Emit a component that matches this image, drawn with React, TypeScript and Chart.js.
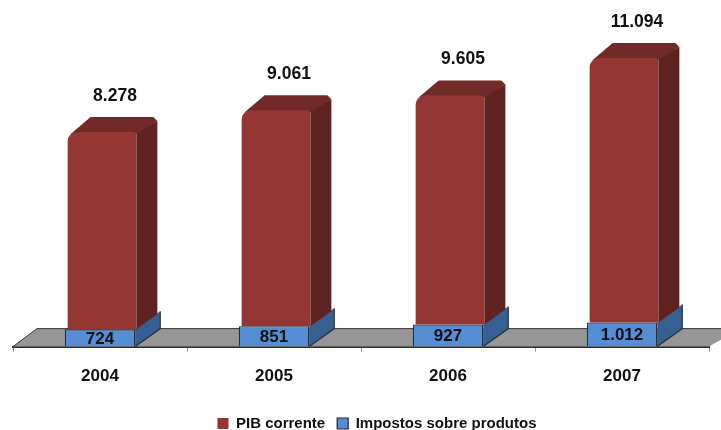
import React, { useEffect, useRef } from "react";
import { Chart, registerables } from "chart.js";

Chart.register(...registerables);

const years = ["2004", "2005", "2006", "2007"];
const pibCorrente = [8278, 9061, 9605, 11094];
const impostos = [724, 851, 927, 1012];
const pibLabels = ["8.278", "9.061", "9.605", "11.094"];
const impostosLabels = ["724", "851", "927", "1.012"];

const FONT = '"Liberation Sans", Arial, sans-serif';
const FLOOR_DEPTH = { x: 24, y: 18 };
const TAX_DEPTH = { x: 25, y: 18 };
const PIB_DEPTH = { x: 21, y: 15 };
const PIB_SHIFT = 2;
const LEGEND_SHIFT = 16;

function polygon(ctx: CanvasRenderingContext2D, points: number[][], fill: string) {
  ctx.beginPath();
  points.forEach(([x, y], i) => (i ? ctx.lineTo(x, y) : ctx.moveTo(x, y)));
  ctx.closePath();
  ctx.fillStyle = fill;
  ctx.fill();
}

// Floor plane plus the side and top faces that give each column its depth.
const depthFaces = {
  id: "depthFaces",
  afterLayout(chart: any) {
    chart.legend.left += LEGEND_SHIFT;
    chart.legend.right += LEGEND_SHIFT;
  },
  beforeDatasetsDraw(chart: any) {
    const { ctx, chartArea, width } = chart;
    const base = chartArea.bottom;
    ctx.save();
    polygon(
      ctx,
      [
        [chartArea.left, base],
        [chartArea.left + FLOOR_DEPTH.x, base - FLOOR_DEPTH.y],
        [width + 20, base - FLOOR_DEPTH.y],
        [chartArea.right, base],
      ],
      "#969696"
    );
    ctx.strokeStyle = "#3a3a3a";
    ctx.lineWidth = 1;
    ctx.beginPath();
    ctx.moveTo(chartArea.left, base);
    ctx.lineTo(chartArea.left + FLOOR_DEPTH.x, base - FLOOR_DEPTH.y);
    ctx.lineTo(width, base - FLOOR_DEPTH.y);
    ctx.stroke();

    const taxBars = chart.getDatasetMeta(0).data;
    const pibBars = chart.getDatasetMeta(1).data;
    taxBars.forEach((bar: any, i: number) => {
      const right = bar.x + bar.width / 2;
      polygon(
        ctx,
        [
          [right, bar.y],
          [right + TAX_DEPTH.x, bar.y - TAX_DEPTH.y],
          [right + TAX_DEPTH.x, bar.base - TAX_DEPTH.y],
          [right, bar.base],
        ],
        "#376092"
      );
      ctx.strokeStyle = "#26303c";
      ctx.lineWidth = 1.2;
      ctx.beginPath();
      ctx.moveTo(right + TAX_DEPTH.x, bar.y - TAX_DEPTH.y);
      ctx.lineTo(right + TAX_DEPTH.x, bar.base - TAX_DEPTH.y);
      ctx.lineTo(right, bar.base);
      ctx.stroke();

      const pib = pibBars[i];
      const l = pib.x - pib.width / 2 + PIB_SHIFT;
      const r = pib.x + pib.width / 2 + PIB_SHIFT;
      polygon(
        ctx,
        [
          [r, pib.y],
          [r + PIB_DEPTH.x, pib.y - PIB_DEPTH.y + 4],
          [r + PIB_DEPTH.x, pib.base - PIB_DEPTH.y],
          [r, pib.base],
        ],
        "#5e2220"
      );
      polygon(
        ctx,
        [
          [l + 3, pib.y + 2],
          [l + PIB_DEPTH.x + 2, pib.y - PIB_DEPTH.y],
          [r + PIB_DEPTH.x - 4, pib.y - PIB_DEPTH.y],
          [r + PIB_DEPTH.x, pib.y - PIB_DEPTH.y + 4],
          [r, pib.y + 2],
        ],
        "#722a28"
      );
    });
    ctx.restore();
  },
  beforeDatasetDraw(chart: any, args: any) {
    if (args.index === 1) {
      chart.ctx.save();
      chart.ctx.translate(PIB_SHIFT, 0);
    }
  },
  afterDatasetDraw(chart: any, args: any) {
    if (args.index === 1) chart.ctx.restore();
  },
  afterDatasetsDraw(chart: any) {
    const { ctx } = chart;
    ctx.save();
    ctx.fillStyle = "#111111";
    ctx.textAlign = "center";
    ctx.textBaseline = "middle";
    ctx.font = `bold 17px ${FONT}`;
    chart.getDatasetMeta(0).data.forEach((bar: any, i: number) => {
      ctx.fillText(impostosLabels[i], bar.x, (bar.y + bar.base) / 2 + 1);
    });
    ctx.font = `bold 17.5px ${FONT}`;
    chart.getDatasetMeta(1).data.forEach((bar: any, i: number) => {
      ctx.fillText(pibLabels[i], bar.x + 15, bar.y - 36);
    });
    ctx.restore();
  },
};

export default function App() {
  const ref = useRef<HTMLCanvasElement>(null);

  useEffect(() => {
    const chart = new Chart(ref.current!, {
      type: "bar",
      data: {
        labels: years,
        datasets: [
          {
            label: "Impostos sobre produtos",
            data: impostos,
            backgroundColor: "#558ed5",
            borderColor: "#1f2b38",
            borderWidth: 1.2,
            barPercentage: 0.405,
            categoryPercentage: 1,
          },
          {
            label: "PIB corrente",
            data: pibCorrente,
            backgroundColor: "#933634",
            borderColor: "#1f1212",
            borderWidth: 0,
            borderRadius: { topLeft: 9, topRight: 4, bottomLeft: 0, bottomRight: 0 },
            borderSkipped: false,
            barPercentage: 0.395,
            categoryPercentage: 1,
          },
        ],
      },
      plugins: [depthFaces],
      options: {
        responsive: false,
        animation: false,
        layout: { padding: { left: 13, right: 12, top: 20, bottom: -11 } },
        plugins: {
          tooltip: { enabled: false },
          legend: {
            position: "bottom",
            reverse: true,
            labels: {
              boxWidth: 11,
              boxHeight: 11,
              padding: 12,
              color: "#111111",
              font: { family: FONT, size: 15, weight: "bold" },
            },
          },
        },
        scales: {
          x: {
            stacked: true,
            z: 1,
            border: { color: "#2e2e2e", width: 2 },
            grid: { drawOnChartArea: false, drawTicks: true, tickLength: 5, color: "#8c8c8c" },
            ticks: {
              color: "#111111",
              padding: 15,
              maxRotation: 0,
              font: { family: FONT, size: 17, weight: "bold" },
            },
            afterFit(scale: any) {
              scale.height += 2;
            },
          },
          y: { display: false, stacked: true, min: 0, max: 13700 },
        },
      },
    });
    return () => chart.destroy();
  }, []);

  return (
    <div style={{ position: "absolute", left: 0, top: 0, width: 721, height: 430, background: "#fff" }}>
      <canvas ref={ref} width={721} height={430} style={{ display: "block" }} />
    </div>
  );
}
